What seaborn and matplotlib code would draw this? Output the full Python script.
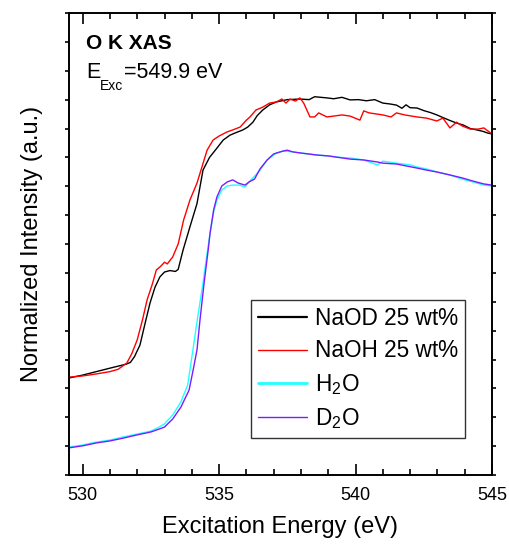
import matplotlib
matplotlib.use("Agg")
import matplotlib.pyplot as plt
from matplotlib.ticker import MultipleLocator, NullFormatter
import seaborn as sns
import pandas as pd

# ---- data ----
naod_e = [529.5, 530.0, 530.5, 531.0, 531.3, 531.6, 531.75, 531.9, 532.1, 532.3, 532.47,
          532.65, 532.83, 533.0, 533.2, 533.4, 533.5, 533.68, 533.93, 534.19, 534.41, 534.65,
          534.92, 535.15, 535.4, 535.6, 535.87, 536.05, 536.24, 536.4, 536.6, 536.85, 537.1,
          537.5, 537.96, 538.3, 538.5, 538.95, 539.2, 539.5, 539.8, 540.1, 540.4, 540.7,
          541.0, 541.26, 541.5, 541.7, 541.85, 542.0, 542.25, 542.5, 542.75, 542.98, 543.2,
          543.45, 543.7, 543.95, 544.2, 544.4, 544.67, 544.85, 545.0]
naod_i = [0.336, 0.346, 0.358, 0.370, 0.377, 0.384, 0.390, 0.410, 0.450, 0.530, 0.596,
          0.650, 0.686, 0.703, 0.708, 0.705, 0.712, 0.779, 0.859, 0.940, 1.056, 1.100,
          1.132, 1.160, 1.177, 1.185, 1.195, 1.205, 1.222, 1.245, 1.264, 1.282, 1.292,
          1.300, 1.302, 1.300, 1.310, 1.306, 1.303, 1.308, 1.299, 1.300, 1.296, 1.300,
          1.288, 1.285, 1.281, 1.270, 1.282, 1.272, 1.271, 1.262, 1.255, 1.247, 1.238,
          1.228, 1.219, 1.212, 1.200, 1.196, 1.190, 1.184, 1.181]

naoh_e = [529.5, 530.0, 530.5, 531.0, 531.3, 531.62, 531.8, 532.0, 532.2, 532.36, 532.55,
          532.7, 532.85, 533.0, 533.1, 533.3, 533.5, 533.7, 533.93, 534.19, 534.56, 534.78,
          535.0, 535.29, 535.5, 535.77, 536.0, 536.13, 536.35, 536.6, 536.85, 537.1, 537.3,
          537.45, 537.6, 537.8, 537.96, 538.1, 538.33, 538.5, 538.65, 538.95, 539.2, 539.5,
          539.8, 540.16, 540.3, 540.5, 541.0, 541.3, 541.5, 541.8, 542.25, 542.6, 542.98,
          543.2, 543.46, 543.7, 543.9, 544.2, 544.5, 544.7, 545.0]
naoh_i = [0.339, 0.343, 0.350, 0.358, 0.366, 0.388, 0.420, 0.468, 0.540, 0.606, 0.660,
          0.710, 0.722, 0.737, 0.731, 0.755, 0.800, 0.883, 0.952, 1.011, 1.125, 1.160,
          1.174, 1.188, 1.195, 1.205, 1.229, 1.240, 1.264, 1.274, 1.288, 1.292, 1.302,
          1.288, 1.302, 1.295, 1.306, 1.288, 1.240, 1.240, 1.254, 1.240, 1.243, 1.247,
          1.243, 1.229, 1.261, 1.254, 1.247, 1.240, 1.254, 1.247, 1.240, 1.236, 1.226,
          1.236, 1.202, 1.222, 1.209, 1.198, 1.198, 1.202, 1.181]

h2o_e = [529.5, 530.0, 530.5, 531.0, 531.5, 532.0, 532.5, 532.8, 533.0, 533.3, 533.6,
         533.85, 534.04, 534.2, 534.41, 534.55, 534.67, 534.8, 534.92, 535.1, 535.3, 535.5,
         535.75, 535.95, 536.1, 536.3, 536.5, 536.76, 537.1, 537.35, 537.7, 538.0, 538.6,
         539.0, 539.3, 539.8, 540.3, 540.8, 541.0, 541.5, 542.0, 542.25, 542.6, 543.0,
         543.46, 543.9, 544.3, 544.7, 545.0]
h2o_i = [0.097, 0.104, 0.114, 0.121, 0.132, 0.142, 0.152, 0.166, 0.177, 0.208, 0.253,
         0.312, 0.433, 0.537, 0.665, 0.762, 0.838, 0.911, 0.952, 0.987, 1.001, 1.004,
         1.004, 0.997, 1.015, 1.035, 1.056, 1.091, 1.115, 1.122, 1.119, 1.115, 1.108,
         1.105, 1.101, 1.098, 1.091, 1.074, 1.087, 1.080, 1.074, 1.067, 1.060, 1.049,
         1.039, 1.025, 1.015, 1.004, 1.001]

d2o_e = [529.5, 530.0, 530.5, 531.0, 531.5, 532.0, 532.5, 532.8, 533.0, 533.3, 533.6,
         533.9, 534.05, 534.19, 534.3, 534.45, 534.6, 534.67, 534.8, 534.92, 535.1, 535.3,
         535.5, 535.7, 535.95, 536.1, 536.3, 536.5, 536.76, 537.0, 537.35, 537.5, 537.7,
         538.0, 538.6, 539.0, 539.8, 540.3, 540.8, 541.0, 541.5, 542.25, 542.6, 543.0,
         543.46, 543.9, 544.3, 544.7, 545.0]
d2o_i = [0.094, 0.101, 0.111, 0.118, 0.128, 0.139, 0.149, 0.159, 0.166, 0.194, 0.235,
         0.294, 0.364, 0.433, 0.537, 0.665, 0.779, 0.838, 0.918, 0.963, 1.001, 1.015,
         1.022, 1.011, 1.004, 1.015, 1.025, 1.060, 1.091, 1.112, 1.122, 1.125, 1.119,
         1.115, 1.108, 1.105, 1.094, 1.091, 1.084, 1.080, 1.077, 1.063, 1.056, 1.049,
         1.039, 1.029, 1.018, 1.008, 1.004]

labels = ["NaOD 25 wt%", "NaOH 25 wt%", r"H$_\mathregular{2}$O", r"D$_\mathregular{2}$O"]
colors = ["#000000", "#ff0000", "#22ffff", "#7a1cff"]
x_ticks = [530, 535, 540, 545]

# ---- style ----
sns.set_theme(style="ticks")
plt.rcParams["font.family"] = ["Liberation Sans", "DejaVu Sans"]
plt.rcParams["mathtext.fontset"] = "custom"
plt.rcParams["mathtext.rm"] = "Liberation Sans"
plt.rcParams["mathtext.it"] = "Liberation Sans"
for k in ["text.color", "axes.labelcolor", "xtick.color", "ytick.color", "axes.edgecolor"]:
    plt.rcParams[k] = "black"

fig = plt.figure(figsize=(5.1, 5.45), dpi=100)
ax = fig.add_axes([69 / 510, 70 / 545, 423 / 510, 462 / 545])

series = [(naod_e, naod_i), (naoh_e, naoh_i), (h2o_e, h2o_i), (d2o_e, d2o_i)]
for (e, i), lab, col in zip(series, labels, colors):
    df = pd.DataFrame({"E": e, "I": i})
    sns.lineplot(data=df, x="E", y="I", ax=ax, color=col, lw=1.0, label=lab,
                 sort=False, estimator=None)

ax.set_xlim(529.5, 545)
ax.set_ylim(0, 1.6)
ax.set_xticks(x_ticks)
ax.set_xticklabels([str(t) for t in x_ticks])
ax.xaxis.set_minor_locator(MultipleLocator(1))
ax.yaxis.set_major_locator(MultipleLocator(0.1))
ax.yaxis.set_major_formatter(NullFormatter())

ax.tick_params(axis="x", which="major", direction="in", top=True, bottom=True,
               length=8, width=1.2, labelsize=13, pad=9)
ax.tick_params(axis="x", which="minor", direction="in", top=True, bottom=True,
               length=4, width=1.2)
ax.tick_params(axis="y", which="major", direction="out", left=True, right=True,
               length=3, width=1.2)
for s in ax.spines.values():
    s.set_linewidth(1.4)
    s.set_color("black")

ax.set_xlabel("Excitation Energy (eV)", fontsize=17, labelpad=8)
ax.set_ylabel("Normalized Intensity (a.u.)", fontsize=17, labelpad=12)

ax.text(0.040, 0.935, "O K XAS", transform=ax.transAxes, fontsize=15,
        fontweight="bold", va="center", ha="left")
t_e = ax.text(0.040, 0.859, "E", transform=ax.transAxes, fontsize=15.5,
              va="baseline", ha="left")
t_sub = ax.annotate("Exc", xy=(1, 0), xycoords=t_e, xytext=(0, -7),
                    textcoords="offset points", fontsize=10, va="bottom", ha="left")
ax.annotate("=549.9 eV", xy=(1, 0), xycoords=(t_sub, t_e), xytext=(0.5, 0),
            textcoords="offset points", fontsize=15.5, va="bottom", ha="left")

leg = ax.legend(loc="lower left", bbox_to_anchor=(0.430, 0.080), fontsize=16.3,
                frameon=True, fancybox=False, edgecolor="#333333", framealpha=1,
                handlelength=2.2, handletextpad=0.35, labelspacing=0.42,
                borderpad=0.3, borderaxespad=0)
leg.get_frame().set_linewidth(1.0)
for ln, w in zip(leg.get_lines(), [1.6, 1.0, 2.0, 1.0]):
    ln.set_linewidth(w)

fig.savefig("out.png", dpi=100)
